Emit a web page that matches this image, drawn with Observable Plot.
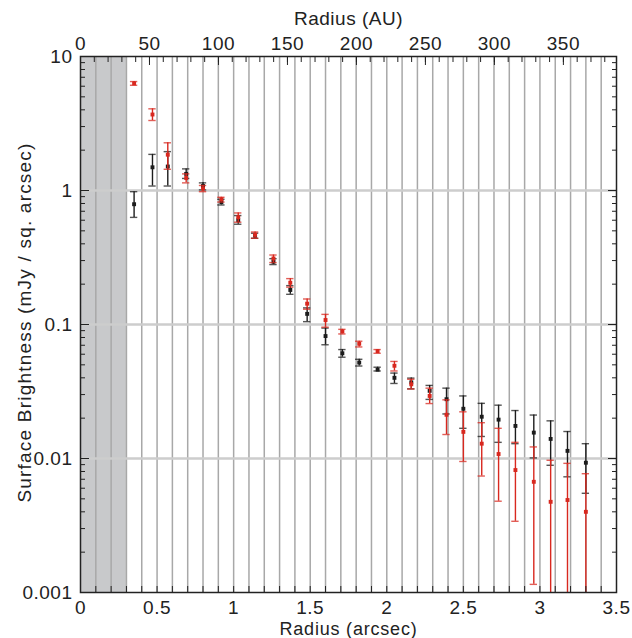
<!DOCTYPE html>
<html><head><meta charset="utf-8">
<script src="https://cdn.jsdelivr.net/npm/d3@7"></script>
<script src="https://cdn.jsdelivr.net/npm/@observablehq/plot@0.6"></script>
<style>body{margin:0;background:#fff}</style>
</head><body><div id="chart"></div>
<script>
// Radius of each annulus (arcsec)
const radius = [0.35,0.47,0.57,0.69,0.80,0.92,1.03,1.14,1.26,1.37,1.48,1.60,1.71,1.82,1.94,2.05,2.16,2.28,2.39,2.50,2.62,2.73,2.84,2.96,3.07,3.18,3.30];

// Black series (value, lower, upper)
const blackVal = [0.79,1.49,1.51,1.33,1.08,0.82,0.60,0.46,0.294,0.181,0.120,0.082,0.061,0.052,0.046,0.040,0.037,0.032,0.0277,0.0235,0.0205,0.0195,0.0175,0.0156,0.0140,0.0114,0.0093];
const blackLo  = [0.63,1.08,1.08,1.23,1.01,0.78,0.56,0.44,0.28,0.168,0.105,0.0706,0.057,0.049,0.045,0.0363,0.0331,0.0276,0.0215,0.0168,0.0146,0.0132,0.0129,0.0101,0.0089,0.0073,0.0055];
const blackHi  = [0.98,1.86,1.95,1.45,1.14,0.86,0.65,0.48,0.31,0.195,0.133,0.094,0.065,0.055,0.048,0.0434,0.0398,0.0351,0.0335,0.0293,0.0258,0.0250,0.0228,0.0211,0.0191,0.0159,0.0129];

// Red series (value, lower, upper)
const redVal = [6.3,3.69,1.85,1.24,1.035,0.86,0.632,0.467,0.311,0.205,0.143,0.108,0.0887,0.0718,0.0633,0.0492,0.0358,0.0293,0.0212,0.0158,0.0129,0.0108,0.0082,0.0067,0.00475,0.0049,0.0040];
const redLo  = [6.1,3.33,1.44,1.14,0.98,0.82,0.58,0.44,0.29,0.19,0.130,0.0955,0.085,0.068,0.061,0.045,0.033,0.0257,0.0151,0.0095,0.0074,0.0048,0.0034,0.00115,0.0006,0.0006,0.0006];
const redHi  = [6.5,4.07,2.27,1.33,1.09,0.89,0.68,0.49,0.33,0.22,0.155,0.119,0.092,0.075,0.065,0.053,0.039,0.0335,0.0274,0.0223,0.0185,0.0168,0.0132,0.0122,0.0097,0.0092,0.0077];

// Scale / tick definitions
const maskedRegion = [0, 0.3];
const auPerArcsec = 111;
const xMajor = [0,0.5,1,1.5,2,2.5,3,3.5];
const xLabels = ["0","0.5","1","1.5","2","2.5","3","3.5"];
const xMinor = [0,0.1,0.2,0.3,0.4,0.5,0.6,0.7,0.8,0.9,1.0,1.1,1.2,1.3,1.4,1.5,1.6,1.7,1.8,1.9,2.0,2.1,2.2,2.3,2.4,2.5,2.6,2.7,2.8,2.9,3.0,3.1,3.2,3.3,3.4,3.5];
const auMajor = [0,50,100,150,200,250,300,350];
const auMinor = [0,10,20,30,40,50,60,70,80,90,100,110,120,130,140,150,160,170,180,190,200,210,220,230,240,250,260,270,280,290,300,310,320,330,340,350,360,370,380];
const yMajor = [0.001,0.01,0.1,1,10];
const yLabels = ["0.001","0.01","0.1","1","10"];
const yMinor = [0.002,0.003,0.004,0.005,0.006,0.007,0.008,0.009,0.02,0.03,0.04,0.05,0.06,0.07,0.08,0.09,0.2,0.3,0.4,0.5,0.6,0.7,0.8,0.9,2,3,4,5,6,7,8,9];
const yGrid = [0.01,0.1,1];

const black = radius.map((x,i)=>({x, y: blackVal[i], lo: blackLo[i], hi: blackHi[i]}));
const red = radius.map((x,i)=>({x, y: redVal[i], lo: redLo[i], hi: redHi[i]}));

const cap = 0.024;
const font = "'Liberation Sans', Arial, Helvetica, sans-serif";
const fs = 19;
const blackCol = "#1c1c1c", redCol = "#d8281f";

function errMarks(data, col, capOpacity) {
  return [
    Plot.ruleX(data, {x:"x", y1:"lo", y2:"hi", stroke: col, strokeWidth: 1.4, clip: true}),
    Plot.ruleY(data, {y:"lo", x1: d=>d.x-cap, x2: d=>d.x+cap, stroke: col, strokeWidth: 1.4, strokeOpacity: capOpacity, clip: true}),
    Plot.ruleY(data, {y:"hi", x1: d=>d.x-cap, x2: d=>d.x+cap, stroke: col, strokeWidth: 1.4, strokeOpacity: capOpacity, clip: true}),
    Plot.dot(data, {x:"x", y:"y", symbol:"square", r: 2.2, fill: col, stroke: "none", clip: true})
  ];
}

const chart = Plot.plot({
  width: 632, height: 638,
  marginLeft: 80, marginRight: 16, marginTop: 56, marginBottom: 46,
  style: {fontFamily: font, fontSize: fs + "px", background: "white", color: "#222", letterSpacing: "0.5px"},
  x: {domain: [0, 3.5], label: null},
  y: {type: "log", domain: [0.001, 10], label: null},
  marks: [
    Plot.rect([maskedRegion], {x1: d=>d[0], x2: d=>d[1], y1: 0.001, y2: 10, fill: "#c8c9cb"}),
    Plot.ruleX(xMinor.slice(1, -1), {stroke: "#a8a8a8", strokeWidth: 1.5}),
    Plot.ruleY(yGrid, {stroke: "#cdcdcd", strokeWidth: 2.5}),
    ...errMarks(black, blackCol, 0.75),
    ...errMarks(red, redCol, 0.75),
    // inward ticks
    Plot.axisX({anchor: "bottom", ticks: xMinor, tickSize: -6, tickFormat: () => "", label: null}),
    Plot.axisX({anchor: "top", ticks: auMinor.map(a => a / auPerArcsec), tickSize: -5, tickFormat: () => "", label: null}),
    Plot.axisX({anchor: "top", ticks: auMajor.map(a => a / auPerArcsec), tickSize: -8, tickFormat: () => "", label: null}),
    Plot.axisY({anchor: "left", ticks: yMinor, tickSize: -5, tickFormat: () => "", label: null}),
    Plot.axisY({anchor: "left", ticks: yMajor, tickSize: -9, tickFormat: () => "", label: null}),
    Plot.axisY({anchor: "right", ticks: yMinor, tickSize: -5, tickFormat: () => "", label: null}),
    Plot.axisY({anchor: "right", ticks: yMajor, tickSize: -9, tickFormat: () => "", label: null}),
    // tick labels
    Plot.axisX({anchor: "bottom", ticks: xMajor, tickSize: 0, tickPadding: 8, fontSize: fs, tickFormat: d => xLabels[xMajor.indexOf(d)], label: null}),
    Plot.axisX({anchor: "top", ticks: auMajor.map(a => a / auPerArcsec), tickSize: 0, tickPadding: 6.5, fontSize: fs, tickFormat: d => String(Math.round(d * auPerArcsec)), label: null}),
    Plot.axisY({anchor: "left", ticks: yMajor, tickSize: 0, tickPadding: 8, fontSize: fs, tickFormat: d => yLabels[yMajor.indexOf(d)], label: null}),
    Plot.frame({stroke: "#222", strokeWidth: 1.5}),
    // titles
    Plot.text(["Radius (arcsec)"], {frameAnchor: "bottom", dy: 36.3, fontSize: 18, lineAnchor: "middle", textAnchor: "middle"}),
    Plot.text(["Radius (AU)"], {frameAnchor: "top", dy: -38, fontSize: fs, lineAnchor: "middle", textAnchor: "middle"}),
    Plot.text(["Surface Brightness (mJy / sq. arcsec)"], {frameAnchor: "left", dx: -56, dy: -2, rotate: -90, fontSize: fs, lineAnchor: "middle", textAnchor: "middle"})
  ]
});
const sel = d3.select(chart).selectAll("text");
sel.filter(function() { return this.textContent.startsWith("Surface"); }).style("letter-spacing", "1.2px");
sel.filter(function() { return this.textContent === "Radius (arcsec)"; }).style("letter-spacing", "0.8px");
document.getElementById("chart").appendChild(chart);
</script>
</body></html>
